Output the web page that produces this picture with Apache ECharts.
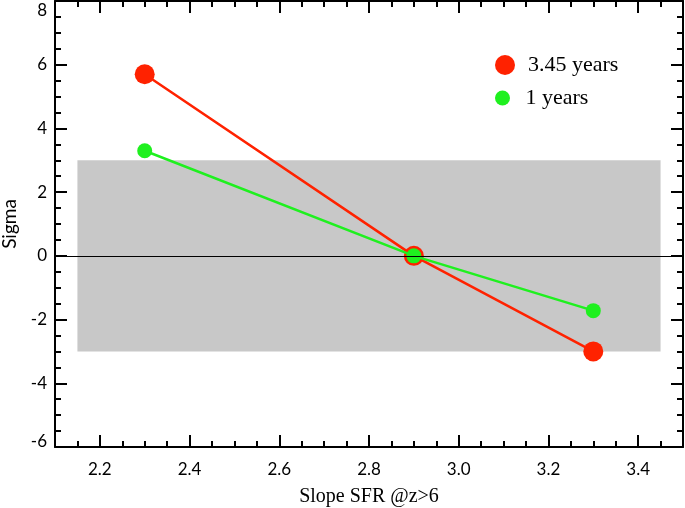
<!DOCTYPE html>
<html>
<head>
<meta charset="utf-8">
<script src="https://cdn.jsdelivr.net/npm/echarts@6/dist/echarts.min.js"></script>
<style>html,body{margin:0;padding:0;background:#fff}#c{width:685px;height:508px}</style>
</head>
<body>
<div id="c"></div>
<script>
// ---- data ----
const slopes = [2.3, 2.9, 3.3];
const sigma345 = [5.7, 0, -3.0];
const sigma1 = [3.3, 0, -1.72];
const seriesNames = ['3.45 years', '1 years'];
const xTicks = [2.2, 2.4, 2.6, 2.8, 3.0, 3.2, 3.4];
const yTicks = [-6, -4, -2, 0, 2, 4, 6, 8];
const band = { x0: 2.15, x1: 3.45, y0: -3, y1: 3 };
const xRange = [2.1, 3.5];
const yRange = [-6, 8];

const RED = '#ff2200', GREEN = '#1ff01f';
const chart = echarts.init(document.getElementById('c'), null, { renderer: 'canvas' });

const tickFont = { fontFamily: 'Lato', fontSize: 17, color: '#000' };
const lineStyle = { color: '#000', width: 2 };

function xAxisMajor(pos, labels) {
  return {
    type: 'value', position: pos, min: xRange[0], max: xRange[1],
    axisLine: { show: true, onZero: false, lineStyle },
    axisTick: { show: true, inside: true, length: 12, lineStyle, customValues: xTicks },
    axisLabel: labels ? Object.assign({ show: true, margin: 14, customValues: xTicks,
      formatter: v => Number(v).toFixed(1) }, tickFont) : { show: false },
    splitLine: { show: false },
    name: labels ? 'Slope SFR @z>6' : '',
    nameLocation: 'middle', nameGap: 40,
    nameTextStyle: { fontFamily: 'Liberation Serif', fontSize: 20, color: '#000' }
  };
}
function xAxisMinor(pos) {
  return {
    type: 'value', position: pos, min: xRange[0], max: xRange[1], interval: 0.05,
    axisLine: { show: false, onZero: false },
    axisTick: { show: true, inside: true, length: 6, lineStyle },
    axisLabel: { show: false }, splitLine: { show: false }
  };
}
function yAxisDef(pos, labels) {
  return {
    type: 'value', position: pos, min: yRange[0], max: yRange[1], interval: 2,
    axisLine: { show: true, onZero: false, lineStyle },
    axisTick: { show: true, inside: true, length: 12, lineStyle },
    minorTick: { show: true, splitNumber: 4, length: 6, lineStyle },
    splitLine: { show: false }, minorSplitLine: { show: false },
    axisLabel: labels ? Object.assign({ show: true, margin: 8,
      formatter: v => v === yRange[1] ? '{t|' + v + '}' : (v === yRange[0] ? '{b|' + v + '}' : String(v)),
      rich: {
        t: { fontFamily: 'Lato', fontSize: 17, color: '#000', padding: [19, 0, 0, 0] },
        b: { fontFamily: 'Lato', fontSize: 17, color: '#000', padding: [0, 0, 10, 0] }
      } }, tickFont) : { show: false },
    name: labels ? 'Sigma' : '',
    nameLocation: 'middle', nameGap: 36,
    nameTextStyle: { fontFamily: 'Lato', fontSize: 19, color: '#000' }
  };
}

const option = {
  animation: false,
  backgroundColor: '#fff',
  grid: { left: 55, right: 2, top: 1, bottom: 61, containLabel: false, outerBoundsMode: 'none' },
  xAxis: [xAxisMajor('bottom', true), xAxisMinor('bottom'), xAxisMajor('top', false), xAxisMinor('top')],
  yAxis: [yAxisDef('left', true), yAxisDef('right', false)],
  legend: [
    { data: [{ name: seriesNames[0], icon: 'circle' }], left: 490, top: 49, itemWidth: 36, itemHeight: 20,
      textStyle: { fontFamily: 'Liberation Serif', fontSize: 22, color: '#000' } },
    { data: [{ name: seriesNames[1], icon: 'circle' }], left: 490, top: 82, itemWidth: 36, itemHeight: 15,
      textStyle: { fontFamily: 'Liberation Serif', fontSize: 22, color: '#000' } }
  ],
  series: [
    {
      type: 'line', name: '_band', data: [], xAxisIndex: 0, yAxisIndex: 0, z: 1, silent: true,
      markArea: { silent: true, itemStyle: { color: '#c8c8c8' },
        data: [[{ coord: [band.x0, band.y1] }, { coord: [band.x1, band.y0] }]] },
      markLine: { silent: true, symbol: 'none', label: { show: false },
        lineStyle: { color: '#000', width: 1, type: 'solid' }, data: [{ yAxis: 0 }] }
    },
    {
      type: 'line', name: seriesNames[0], xAxisIndex: 0, yAxisIndex: 0, z: 3,
      data: slopes.map((x, i) => [x, sigma345[i]]),
      symbol: 'circle', symbolSize: 20, color: RED,
      itemStyle: { color: RED }, lineStyle: { color: RED, width: 2.5 }
    },
    {
      type: 'line', name: seriesNames[1], xAxisIndex: 0, yAxisIndex: 0, z: 4,
      data: slopes.map((x, i) => [x, sigma1[i]]),
      symbol: 'circle', symbolSize: 15, color: GREEN,
      itemStyle: { color: GREEN }, lineStyle: { color: GREEN, width: 2.5 }
    }
  ]
};
chart.setOption(option);
</script>
</body>
</html>
